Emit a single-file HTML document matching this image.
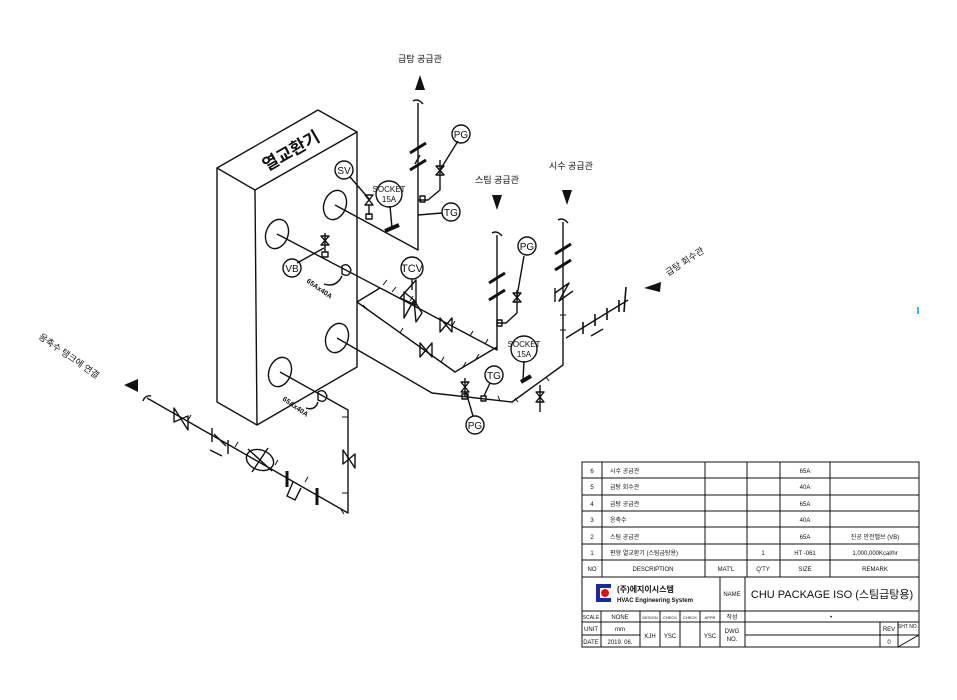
<!DOCTYPE html>
<html><head><meta charset="utf-8"><style>
html,body{margin:0;padding:0;background:#fff;}
svg{display:block;}
text{font-family:"Liberation Sans","Noto Sans CJK KR",sans-serif;fill:#111;}
</style></head><body>
<svg width="957" height="700" viewBox="0 0 957 700" xmlns="http://www.w3.org/2000/svg">
<g fill="none" stroke="#111" stroke-width="1.4" stroke-linejoin="round">
<polygon points="217,168 318,110 357,132 255,190"/>
<polyline points="217,168 217,402 257,425 357,367 357,132"/>
<line x1="255" y1="190" x2="257" y2="425"/>
<ellipse cx="335" cy="205" rx="11" ry="15" transform="rotate(20 335 205)"/>
<ellipse cx="277" cy="234" rx="11" ry="15" transform="rotate(20 277 234)"/>
<ellipse cx="337" cy="338" rx="11" ry="15" transform="rotate(20 337 338)"/>
<ellipse cx="280" cy="372" rx="11" ry="15" transform="rotate(20 280 372)"/>

<polyline points="335,205 418,250 418,103"/>
<path d="M413,101 q5,-3 10,3"/>
<line x1="410" y1="153" x2="426" y2="143" stroke-width="3"/>
<line x1="410" y1="170" x2="426" y2="160" stroke-width="3"/>
<line x1="415" y1="164" x2="420" y2="155"/>
<polyline points="418,200 428,200 440,190 440,160"/>
<rect x="420" y="196" width="5" height="6"/>
<path d="M436,166 l8,0 l-8,9 l8,0 z"/>
<line x1="440" y1="170" x2="458" y2="141"/>
<circle cx="461" cy="134" r="9"/>
<line x1="418" y1="215" x2="442" y2="213"/>
<circle cx="451" cy="212" r="9"/>
<path d="M365,195 l8,0 l-8,10 l8,0 z"/>
<line x1="369" y1="205" x2="369" y2="215"/>
<rect x="366" y="214" width="6" height="5"/>
<line x1="370" y1="200" x2="350" y2="177"/>
<circle cx="344" cy="170" r="9"/>
<line x1="385" y1="231" x2="399" y2="225" stroke-width="4"/>
<line x1="392" y1="228" x2="390" y2="206"/>
<circle cx="389" cy="194" r="13"/>

<line x1="277" y1="234" x2="403" y2="300"/>
<path d="M342,266 q6,-4 9,4 q-2,8 -9,4 z"/>
<path d="M342,276 q-6,12 -18,8"/>
<polyline points="403,300 497,350 497,235"/>
<path d="M492,233 q5,-3 10,3"/>
<line x1="489" y1="283" x2="505" y2="273" stroke-width="3"/>
<line x1="489" y1="300" x2="505" y2="290" stroke-width="3"/>
<polyline points="497,323 506,323 517,313 517,290"/>
<rect x="497" y="320" width="5" height="6"/>
<path d="M513,293 l8,0 l-8,9 l8,0 z"/>
<line x1="517" y1="296" x2="524" y2="256"/>
<circle cx="527" cy="246" r="9"/>
<polygon points="404,292 414,300 404,318"/>
<polygon points="414,300 422,313 416,322"/>
<polygon points="400,298 416,280 416,305"/>
<line x1="412" y1="290" x2="412" y2="279"/>
<circle cx="412" cy="268" r="11"/>
<path d="M440,318 l0,14 l12,-14 l0,14 z"/>
<polyline points="380,288 357,302 455,372 497,347"/>
<path d="M420,343 l0,14 l12,-14 l0,14 z"/>
<line x1="325" y1="252" x2="325" y2="233"/>
<path d="M321,236 l8,0 l-8,9 l8,0 z"/>
<rect x="322" y="252" width="6" height="5"/>
<line x1="324" y1="248" x2="297" y2="263"/>
<circle cx="292" cy="268" r="9"/>

<polyline points="337,338 432,393 512,402 563,365 563,222"/>
<path d="M558,220 q5,-3 10,3"/>
<line x1="555" y1="254" x2="571" y2="244" stroke-width="3"/>
<line x1="555" y1="270" x2="571" y2="260" stroke-width="3"/>
<path d="M555,293 l14,-10 l-10,18 l14,-10"/>
<line x1="555" y1="288" x2="555" y2="302"/>
<line x1="566" y1="338" x2="628" y2="300"/>
<path d="M583,322 l0,12 M595,314 l0,12 M607,308 l0,12 M619,300 l0,12 M626,287 l-2,25" stroke-width="1.6"/>
<path d="M591,336 l12,-7" stroke-width="1.4"/>
<path d="M461,382 l8,0 l-8,10 l8,0 z"/>
<line x1="465" y1="378" x2="465" y2="397"/>
<rect x="462" y="394" width="6" height="5"/>
<line x1="466" y1="392" x2="473" y2="416"/>
<circle cx="475" cy="425" r="9"/>
<rect x="481" y="396" width="5" height="5"/>
<line x1="484" y1="396" x2="490" y2="383"/>
<circle cx="494" cy="375" r="9"/>
<line x1="521" y1="382" x2="531" y2="376" stroke-width="4"/>
<line x1="523" y1="380" x2="524" y2="361"/>
<circle cx="524" cy="349" r="13"/>
<path d="M536,392 l8,0 l-8,10 l8,0 z"/>
<line x1="540" y1="385" x2="540" y2="412"/>

<polyline points="280,372 348,410 348,513 147,398"/>
<path d="M318,392 q6,-4 9,4 q-2,8 -9,4 z"/>
<path d="M318,402 q-3,9 -12,6"/>
<path d="M143,401 q2,-6 8,-5"/>
<path d="M174,408 l0,14 l14,-6 l0,14 z"/>
<path d="M343,450 l0,14 l12,-10 l0,14 z"/>
<path d="M212,428 l0,14 M214,434 l12,12 M228,440 l0,14 M210,450 l12,6"/>
<ellipse cx="260" cy="460" rx="14" ry="10" transform="rotate(20 260 460)"/>
<line x1="248" y1="449" x2="272" y2="471"/><line x1="252" y1="472" x2="268" y2="448"/>
<line x1="287" y1="471" x2="287" y2="487" stroke-width="3"/>
<line x1="317" y1="488" x2="317" y2="505" stroke-width="3"/>
<path d="M293,482 l-6,14 l8,4 l6,-12"/>
<g stroke-width="1">
<path d="M383,285 l4,-5 M392,292 l4,-5 M410,301 l3,-5 M452,326 l3,-5 M470,336 l3,-5 M485,344 l3,-5 M367,309 l-4,-4 M400,333 l3,-5 M441,362 l3,-5 M463,367 l3,-5 M476,359 l3,-5 M500,401 l-2,-5 M515,398 l3,4 M546,377 l3,4 M560,330 l6,0 M560,315 l6,0 M342,417 l6,0 M342,493 l6,0 M340,508 l4,6 M188,420 l3,-5 M235,447 l3,-5 M275,465 l3,-5 M305,482 l3,-5"/>
</g>
</g>
<g fill="#111">
<polygon points="420,75 415,90 425,90"/>
<polygon points="497,210 492,195 502,195"/>
<polygon points="567,205 562,190 572,190"/>
<polygon points="644,288 661,282 660,292"/>
<polygon points="124,385 138,379 138,392"/>
</g>
<g font-size="9">
<text x="420" y="62" text-anchor="middle">급탕 공급관</text>
<text x="497" y="183" text-anchor="middle">스팀 공급관</text>
<text x="571" y="169" text-anchor="middle">시수 공급관</text>
<text x="668" y="276" transform="rotate(-33 668 276)">급탕 회수관</text>
<text x="38" y="338" transform="rotate(35 38 338)">응축수 탱크에 연결</text>
</g>
<text x="294" y="156" font-size="17" font-weight="bold" text-anchor="middle" transform="rotate(-30 294 156)">열교환기</text>
<g font-size="10" text-anchor="middle">
<text x="344" y="174">SV</text><text x="461" y="138">PG</text><text x="451" y="216">TG</text>
<text x="292" y="272">VB</text><text x="412" y="272" font-size="11">TCV</text><text x="527" y="250">PG</text>
<text x="475" y="429">PG</text><text x="494" y="379">TG</text>
<text x="389" y="192" font-size="8">SOCKET</text><text x="389" y="202" font-size="8">15A</text>
<text x="524" y="347" font-size="8">SOCKET</text><text x="524" y="357" font-size="8">15A</text>
</g>
<text x="306" y="282" font-size="7" font-weight="bold" transform="rotate(35 306 282)">65Ax40A</text>
<text x="282" y="400" font-size="7" font-weight="bold" transform="rotate(35 282 400)">65Ax40A</text>
<rect x="917" y="307" width="2" height="7" fill="#4aaee0"/>

<g fill="none" stroke="#111" stroke-width="1">
<rect x="582" y="462" width="337" height="185"/>
<path d="M582,478H919M582,495H919M582,511H919M582,527H919M582,544H919M582,560H919M582,577H919M582,611H919M582,622H919M582,635H640M745,635H919"/>
<path d="M602,462V577M705,462V577M747,462V577M780,462V577M830,462V577"/>
<path d="M720,577V647M745,577V647"/>
<path d="M601,611V647M640,611V647M660,611V647M680,611V647M700,611V647"/>
<path d="M880,622V647M898,622V647M880,635H898M898,647L919,635"/>
</g>
<g font-size="6" fill="#333">
<text x="592" y="473" text-anchor="middle">6</text><text x="610" y="473">시수 공급관</text><text x="805" y="473" text-anchor="middle">65A</text>
<text x="592" y="489" text-anchor="middle">5</text><text x="610" y="489">급탕 회수관</text><text x="805" y="489" text-anchor="middle">40A</text>
<text x="592" y="506" text-anchor="middle">4</text><text x="610" y="506">급탕 공급관</text><text x="805" y="506" text-anchor="middle">65A</text>
<text x="592" y="522" text-anchor="middle">3</text><text x="610" y="522">응축수</text><text x="805" y="522" text-anchor="middle">40A</text>
<text x="592" y="539" text-anchor="middle">2</text><text x="610" y="539">스팀 공급관</text><text x="805" y="539" text-anchor="middle">65A</text><text x="875" y="539" text-anchor="middle">진공 안전밸브 (VB)</text>
<text x="592" y="555" text-anchor="middle">1</text><text x="610" y="555">판형 열교환기 (스팀급탕용)</text><text x="763" y="555" text-anchor="middle">1</text><text x="805" y="555" text-anchor="middle">HT -061</text><text x="875" y="555" text-anchor="middle">1,000,000Kcal/hr</text>
<text x="592" y="571" text-anchor="middle">NO</text><text x="653" y="571" text-anchor="middle">DESCRIPTION</text><text x="726" y="571" text-anchor="middle">MAT'L</text><text x="763" y="571" text-anchor="middle">Q'TY</text><text x="805" y="571" text-anchor="middle">SIZE</text><text x="875" y="571" text-anchor="middle">REMARK</text>
<text x="732" y="596" text-anchor="middle">NAME</text>
<text x="591" y="619" text-anchor="middle" font-size="5">SCALE</text><text x="620" y="619" text-anchor="middle">NONE</text>
<text x="650" y="619" text-anchor="middle" font-size="4">DESIGN</text><text x="670" y="619" text-anchor="middle" font-size="4">CHECK</text><text x="690" y="619" text-anchor="middle" font-size="4">CHECK</text><text x="710" y="619" text-anchor="middle" font-size="4">APPR</text><text x="732" y="619" text-anchor="middle">작성</text><text x="830" y="619">•</text>
<text x="591" y="631" text-anchor="middle">UNIT</text><text x="620" y="631" text-anchor="middle">mm</text>
<text x="591" y="644" text-anchor="middle">DATE</text><text x="620" y="644" text-anchor="middle">2019. 06.</text>
<text x="650" y="638" text-anchor="middle">KJH</text><text x="670" y="638" text-anchor="middle">YSC</text><text x="710" y="638" text-anchor="middle">YSC</text>
<text x="732" y="633" text-anchor="middle">DWG</text><text x="732" y="641" text-anchor="middle">NO.</text>
<text x="889" y="631" text-anchor="middle">REV</text><text x="889" y="644" text-anchor="middle">0</text><text x="908" y="628" text-anchor="middle" font-size="5">SHT NO.</text>
</g>
<rect x="596" y="584" width="15" height="18" fill="#1a2a9a"/>
<rect x="600" y="588" width="11" height="10" fill="#fff"/>
<circle cx="605" cy="593" r="4" fill="#e01010"/>
<text x="617" y="592" font-size="8" font-weight="bold">(주)에지이시스템</text>
<text x="617" y="602" font-size="6" font-weight="bold">HVAC Engineering System</text>
<text x="832" y="598" font-size="11" text-anchor="middle">CHU PACKAGE ISO (스팀급탕용)</text>
</svg>
</body></html>
